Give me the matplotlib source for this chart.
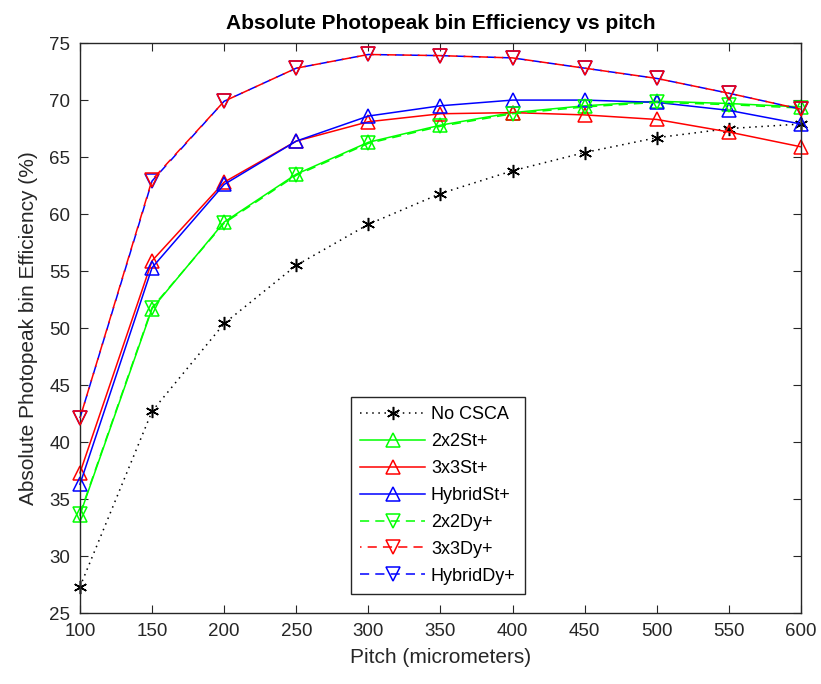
import matplotlib.pyplot as plt

plt.rcParams['font.family'] = ['Liberation Sans', 'DejaVu Sans']

pitch = [100, 150, 200, 250, 300, 350, 400, 450, 500, 550, 600]

no_csca   = [27.3, 42.7, 50.4, 55.5, 59.1, 61.8, 63.8, 65.4, 66.7, 67.5, 67.9]
st_2x2    = [33.6, 51.7, 59.3, 63.5, 66.3, 67.8, 68.9, 69.5, 69.9, 69.7, 69.4]
st_3x3    = [37.3, 55.9, 62.8, 66.4, 68.1, 68.8, 68.9, 68.7, 68.3, 67.2, 65.9]
st_hybrid = [36.3, 55.3, 62.6, 66.4, 68.6, 69.5, 70.0, 70.0, 69.8, 69.1, 67.9]
dy_2x2    = [33.7, 51.8, 59.2, 63.4, 66.2, 67.7, 68.8, 69.4, 69.8, 69.6, 69.3]
dy_3x3    = [42.1, 63.0, 69.9, 72.8, 74.0, 73.9, 73.7, 72.8, 71.9, 70.6, 69.2]
dy_hybrid = [42.1, 62.9, 69.9, 72.8, 74.0, 73.9, 73.7, 72.8, 71.9, 70.6, 69.2]

fig = plt.figure(figsize=(8.21, 6.84), dpi=100)
ax = fig.add_axes([0.0974, 0.1038, 0.8782, 0.8332])

ms = 9.5
star = (6, 2, 0)  # asterisk like matlab '*'
common = dict(lw=1.1, ms=ms, mfc='none', mew=1.1, clip_on=False)
ax.plot(pitch, no_csca, color='k', ls=(0, (1, 3)), marker=star, label='No CSCA', **common)
ax.plot(pitch, st_2x2, '-', color=(0, 1, 0), marker='^', label='2x2St+', **common)
ax.plot(pitch, st_3x3, '-', color='r', marker='^', label='3x3St+', **common)
ax.plot(pitch, st_hybrid, '-', color='b', marker='^', label='HybridSt+', **common)
ax.plot(pitch, dy_2x2, color=(0, 1, 0), ls=(0, (6, 4)), marker='v', label='2x2Dy+', **common)
ax.plot(pitch, dy_hybrid, color='b', ls=(0, (6, 4)), marker='v', label='HybridDy+', zorder=2, **common)
ax.plot(pitch, dy_3x3, color='r', ls=(5, (6, 4)), marker='v', label='3x3Dy+', zorder=3, **common)

ax.set_xlim(100, 600)
ax.set_ylim(25, 75)
ax.set_xticks(range(100, 601, 50))
ax.set_yticks(range(25, 76, 5))

gray = (0.15, 0.15, 0.15)
ax.tick_params(direction='in', top=True, right=True, labelsize=13.5, colors=gray, length=6, pad=7)
for s in ax.spines.values():
    s.set_color(gray)
    s.set_linewidth(1.0)

ax.set_xlabel('Pitch (micrometers)', fontsize=15, color=gray, labelpad=6)
ax.set_ylabel('Absolute Photopeak bin Efficiency (%)', fontsize=15, color=gray, labelpad=8)
ax.set_title('Absolute Photopeak bin Efficiency vs pitch', fontsize=15, fontweight='bold', pad=10)

h, l = ax.get_legend_handles_labels()
order = [0, 1, 2, 3, 4, 6, 5]
leg = ax.legend([h[i] for i in order], [l[i] for i in order],
                loc='lower left', bbox_to_anchor=(0.364, 0.018), fontsize=13,
                fancybox=False, edgecolor=gray, framealpha=1,
                handlelength=3.6, handletextpad=0.3, borderpad=0.5, labelspacing=0.55)
leg.get_frame().set_linewidth(1.0)

fig.savefig('out.png', dpi=100)
